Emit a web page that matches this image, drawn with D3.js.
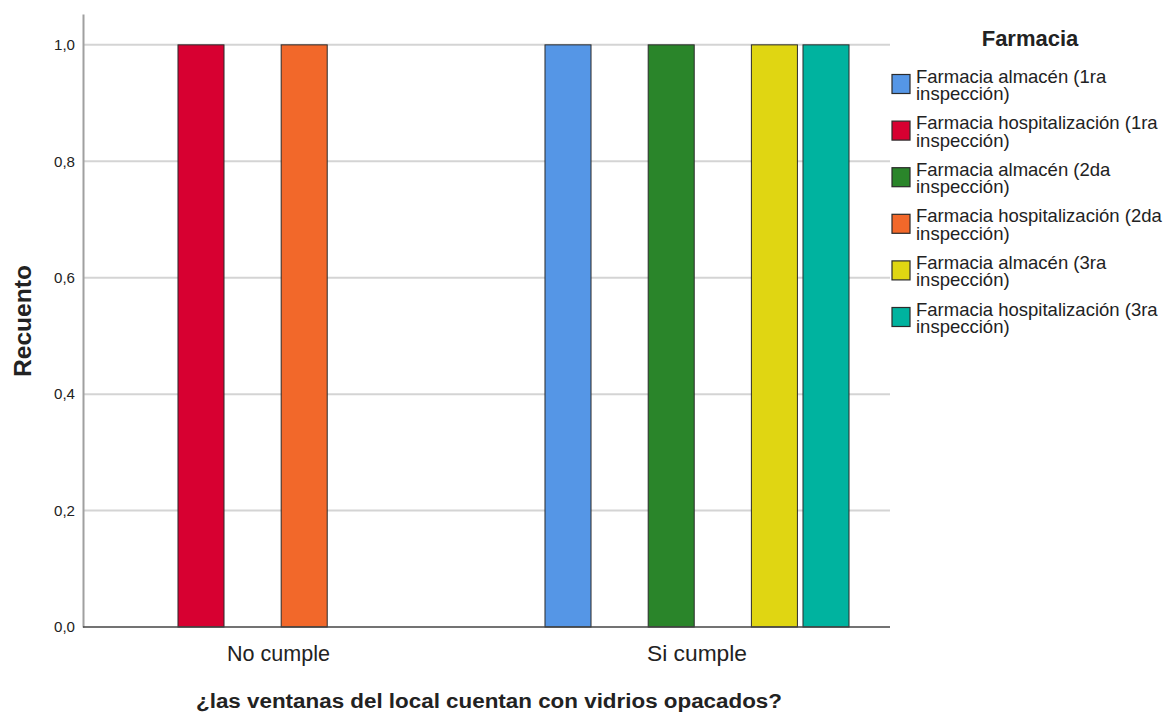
<!DOCTYPE html>
<html>
<head>
<meta charset="utf-8">
<script src="https://cdn.jsdelivr.net/npm/d3@7"></script>
<style>
html,body{margin:0;padding:0;background:#fff;}
svg{display:block;}
text{font-family:"Liberation Sans",Arial,sans-serif;fill:#222;}
</style>
</head>
<body>
<svg id="chart" width="1163" height="713"></svg>
<script>
const categories = ["No cumple", "Si cumple"];
const seriesNames = [
  "Farmacia almacén (1ra inspección)",
  "Farmacia hospitalización (1ra inspección)",
  "Farmacia almacén (2da inspección)",
  "Farmacia hospitalización (2da inspección)",
  "Farmacia almacén (3ra inspección)",
  "Farmacia hospitalización (3ra inspección)"
];
const valuesNoCumple = [0, 1, 0, 1, 0, 0];
const valuesSiCumple = [1, 0, 1, 0, 1, 1];
const seriesColors = ["#5596e6", "#d70031", "#2a852a", "#f2682a", "#e0d612", "#00b39f"];
const yTicks = [0, 0.2, 0.4, 0.6, 0.8, 1.0];
const yMax = 1.053;
const xTitle = "¿las ventanas del local cuentan con vidrios opacados?";
const yTitle = "Recuento";
const legendTitle = "Farmacia";

const svg = d3.select("#chart");
const plot = {left: 83, right: 890, top: 14, bottom: 627};

const data = [];
categories.forEach((c, i) => {
  const vals = i === 0 ? valuesNoCumple : valuesSiCumple;
  vals.forEach((v, j) => data.push({cat: c, series: seriesNames[j], idx: j, value: v}));
});

const y = d3.scaleLinear().domain([0, yMax]).range([plot.bottom, plot.top]);
const x0 = d3.scaleBand().domain(categories).range([123.6, 851.8]).paddingInner(0.2604);
const x1 = d3.scaleBand().domain(seriesNames).range([0, x0.bandwidth()]).paddingInner(0.108).paddingOuter(0.054);
const color = d3.scaleOrdinal().domain(seriesNames).range(seriesColors);

// gridlines
svg.append("g").selectAll("line").data(yTicks.filter(t => t > 0)).join("line")
  .attr("x1", plot.left).attr("x2", plot.right)
  .attr("y1", d => y(d)).attr("y2", d => y(d))
  .attr("stroke", "#d4d4d4").attr("stroke-width", 2);

// y axis
const yAxis = d3.axisLeft(y).tickValues(yTicks).tickSize(0).tickPadding(8)
  .tickFormat(d => d3.format(".1f")(d).replace(".", ","));
const gy = svg.append("g").attr("transform", `translate(${plot.left},0)`).call(yAxis);
gy.select(".domain").attr("stroke", "#a0a0a0").attr("stroke-width", 2);
gy.selectAll("text").attr("font-size", 15).attr("fill", "#333")
  .attr("font-family", "Liberation Sans, Arial, sans-serif")
  .attr("textLength", 21).attr("lengthAdjust", "spacingAndGlyphs");

// bars
svg.append("g").selectAll("rect").data(data.filter(d => d.value > 0)).join("rect")
  .attr("x", d => x0(d.cat) + x1(d.series))
  .attr("width", x1.bandwidth())
  .attr("y", d => y(d.value))
  .attr("height", d => y(0) - y(d.value))
  .attr("fill", d => color(d.series))
  .attr("stroke", "#2b2b2b").attr("stroke-width", 1);

// x axis
const xAxis = d3.axisBottom(x0).tickSize(0).tickPadding(0);
const gx = svg.append("g").attr("transform", `translate(0,${plot.bottom})`).call(xAxis);
gx.select(".domain").remove();
gx.append("line").attr("x1", plot.left).attr("x2", plot.right).attr("y1", 0).attr("y2", 0)
  .attr("stroke", "#444").attr("stroke-width", 1.5);
gx.selectAll(".tick text").attr("font-size", 22).attr("fill", "#333")
  .attr("font-family", "Liberation Sans, Arial, sans-serif")
  .attr("dy", null).attr("y", 34)
  .attr("textLength", d => d === "No cumple" ? 103 : 100)
  .attr("lengthAdjust", "spacingAndGlyphs");

// axis titles
svg.append("text").attr("x", 489).attr("y", 708).attr("text-anchor", "middle")
  .attr("font-size", 20).attr("font-weight", "bold")
  .attr("textLength", 586).attr("lengthAdjust", "spacingAndGlyphs")
  .text(xTitle);
svg.append("text").attr("transform", "translate(31,321) rotate(-90)")
  .attr("text-anchor", "middle").attr("font-size", 23).attr("font-weight", "bold")
  .attr("textLength", 112).attr("lengthAdjust", "spacingAndGlyphs")
  .text(yTitle);

// legend
svg.append("text").attr("x", 1030).attr("y", 46).attr("text-anchor", "middle")
  .attr("font-size", 22).attr("font-weight", "bold").text(legendTitle);
const lg = svg.append("g").selectAll("g").data(seriesNames).join("g")
  .attr("transform", (d, i) => `translate(892,${74.5 + i * 46.6})`);
lg.append("rect").attr("width", 18).attr("height", 19)
  .attr("fill", d => color(d)).attr("stroke", "#2b2b2b").attr("stroke-width", 1.2);
lg.each(function(d) {
  const k = d.lastIndexOf(" ");
  const g = d3.select(this);
  g.append("text").attr("x", 24).attr("y", 8).attr("font-size", 18.5).attr("fill", "#222").text(d.slice(0, k));
  g.append("text").attr("x", 24).attr("y", 25.5).attr("font-size", 18.5).attr("fill", "#222").text(d.slice(k + 1));
});
</script>
</body>
</html>
